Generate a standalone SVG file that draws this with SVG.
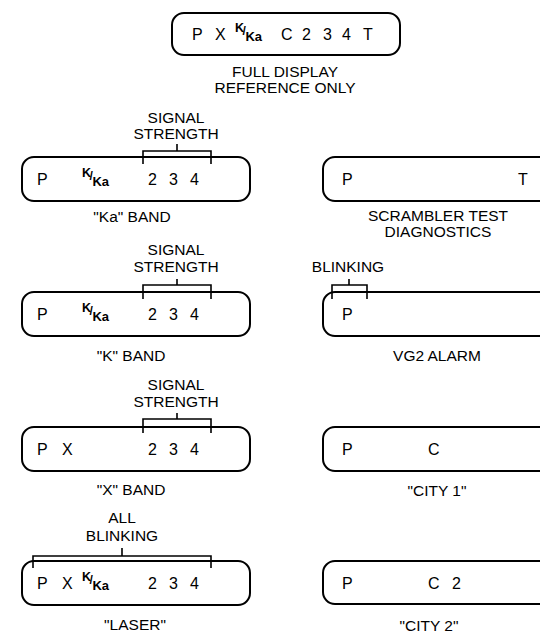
<svg xmlns="http://www.w3.org/2000/svg" width="540" height="639" viewBox="0 0 540 639">
<style>
.box{fill:none;stroke:#000;stroke-width:2}
.br{fill:none;stroke:#000;stroke-width:1.6}
text{font-family:"Liberation Sans",Arial,Helvetica,sans-serif;fill:#000}
.lbl{font-size:15.5px;text-anchor:middle}
.d{font-size:16px}
.k{font-size:12.5px;font-weight:bold}
.s{font-size:12px}
</style>
<rect width="540" height="639" fill="#fff"/>
<g id="full">
<rect class="box" x="172" y="13" width="228" height="42" rx="12"/>
<text class="d" x="192" y="40">P</text><text class="d" x="215" y="40">X</text>
<text class="k" x="235" y="32">K<tspan class="s" dx="-1.5" dy="3">/</tspan><tspan dx="-0.5" dy="6" font-size="13">Ka</tspan></text>
<text class="d" x="281" y="40">C</text><text class="d" x="302" y="40">2</text><text class="d" x="323" y="40">3</text><text class="d" x="342" y="40">4</text><text class="d" x="363" y="40">T</text>
<text class="lbl" x="285" y="77">FULL DISPLAY</text>
<text class="lbl" x="285" y="93">REFERENCE ONLY</text>
</g>
<g id="ka-band">
<rect class="box" x="22" y="157" width="228" height="44" rx="12"/>
<text class="d" x="37" y="185">P</text>
<text class="k" x="82" y="177">K<tspan class="s" dx="-1.5" dy="3">/</tspan><tspan dx="-0.5" dy="6" font-size="13">Ka</tspan></text>
<text class="d" x="148" y="185">2</text><text class="d" x="169" y="185">3</text><text class="d" x="190" y="185">4</text>
<text class="lbl" x="176" y="123">SIGNAL</text><text class="lbl" x="176" y="139">STRENGTH</text>
<text class="lbl" x="132" y="222">"Ka" BAND</text>
</g>
<g id="scrambler">
<rect class="box" x="323" y="157" width="240" height="44" rx="12"/>
<text class="d" x="342" y="185">P</text><text class="d" x="518" y="185">T</text>
<text class="lbl" x="438" y="221" font-size="15">SCRAMBLER TEST</text>
<text class="lbl" x="438" y="237" font-size="15">DIAGNOSTICS</text>
</g>
<g id="k-band">
<rect class="box" x="22" y="292" width="228" height="44" rx="12"/>
<text class="d" x="37" y="320">P</text>
<text class="k" x="82" y="312">K<tspan class="s" dx="-1.5" dy="3">/</tspan><tspan dx="-0.5" dy="6" font-size="13">Ka</tspan></text>
<text class="d" x="148" y="320">2</text><text class="d" x="169" y="320">3</text><text class="d" x="190" y="320">4</text>
<text class="lbl" x="176" y="255">SIGNAL</text><text class="lbl" x="176" y="272">STRENGTH</text>
<text class="lbl" x="131" y="361">"K" BAND</text>
</g>
<g id="vg2">
<rect class="box" x="323" y="292" width="240" height="44" rx="12"/>
<text class="d" x="342" y="320">P</text>
<text class="lbl" x="348" y="272">BLINKING</text>
<text class="lbl" x="437" y="361">VG2 ALARM</text>
</g>
<g id="x-band">
<rect class="box" x="22" y="427" width="228" height="44" rx="12"/>
<text class="d" x="37" y="455">P</text><text class="d" x="62" y="455">X</text>
<text class="d" x="148" y="455">2</text><text class="d" x="169" y="455">3</text><text class="d" x="190" y="455">4</text>
<text class="lbl" x="176" y="390">SIGNAL</text><text class="lbl" x="176" y="407">STRENGTH</text>
<text class="lbl" x="131" y="495">"X" BAND</text>
</g>
<g id="city1">
<rect class="box" x="323" y="427" width="240" height="44" rx="12"/>
<text class="d" x="342" y="455">P</text><text class="d" x="428" y="455">C</text>
<text class="lbl" x="437" y="496">"CITY 1"</text>
</g>
<g id="laser">
<rect class="box" x="22" y="561" width="228" height="44" rx="12"/>
<text class="d" x="37" y="589">P</text><text class="d" x="62" y="589">X</text>
<text class="k" x="82" y="581">K<tspan class="s" dx="-1.5" dy="3">/</tspan><tspan dx="-0.5" dy="6" font-size="13">Ka</tspan></text>
<text class="d" x="148" y="589">2</text><text class="d" x="169" y="589">3</text><text class="d" x="190" y="589">4</text>
<text class="lbl" x="122" y="523">ALL</text><text class="lbl" x="122" y="541">BLINKING</text>
<text class="lbl" x="135" y="630">"LASER"</text>
</g>
<g id="city2">
<rect class="box" x="323" y="561" width="240" height="43" rx="12"/>
<text class="d" x="342" y="589">P</text><text class="d" x="428" y="589">C</text><text class="d" x="452" y="589">2</text>
<text class="lbl" x="429" y="631">"CITY 2"</text>
</g>
<g id="connectors">
<path class="br" d="M143,164V151H211V164M177,151V144"/>
<path class="br" d="M143,299V285H211V299M177,285V279"/>
<path class="br" d="M332,299V285H367V299M349,285V279"/>
<path class="br" d="M143,433V419H211V433M177,419V413"/>
<path class="br" d="M33,568V556H211V568M122,556V548"/>
</g>
</svg>
